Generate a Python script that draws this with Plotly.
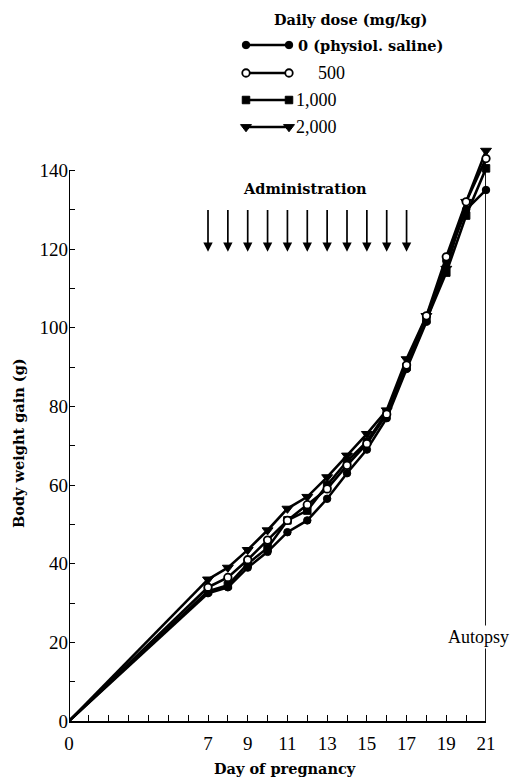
import plotly.graph_objects as go

W, H = 520, 778

days = [0, 7, 8, 9, 10, 11, 12, 13, 14, 15, 16, 17, 18, 19, 20, 21]
gain_0 = [0, 32.5, 34, 39, 43, 48, 51, 56.5, 63, 69, 77, 89.5, 101.5, 117, 130, 135]
gain_500 = [0, 34, 36.5, 41, 46, 51, 55, 59, 65, 70.5, 78, 90.5, 103, 118, 132, 143]
gain_1000 = [0, 33, 34.5, 40, 44, 51, 53.5, 60, 66, 71, 78.5, 90, 102, 114, 128.5, 140.5]
gain_2000 = [0, 36, 39, 43.5, 48.5, 54, 57, 62, 67.5, 73, 79, 92, 103, 115, 132, 145]

admin_days = [7, 8, 9, 10, 11, 12, 13, 14, 15, 16, 17]
x_tickvals = list(range(0, 22))
x_ticklabels = ["0", "", "", "", "", "", "", "7", "", "9", "", "11", "", "13", "", "15", "", "17", "", "19", "", "21"]
y_tickvals = list(range(0, 150, 10))
y_ticklabels = [str(v) if v % 20 == 0 else "" for v in y_tickvals]

series_names = ["0 (physiol. saline)", "500", "1,000", "2,000"]

SERIF = "Liberation Serif"
BOLD = "DejaVu Serif"
BSIZE = 14.5

styles = {
    "0 (physiol. saline)": dict(symbol="circle", size=7.5, color="black", line=dict(color="black", width=1)),
    "500": dict(symbol="circle", size=7.5, color="white", line=dict(color="black", width=1.8)),
    "1,000": dict(symbol="square", size=7.5, color="black", line=dict(color="black", width=1)),
    "2,000": dict(symbol="triangle-down", size=9.5, color="black", line=dict(color="black", width=1)),
}
LW = 2.6

fig = go.Figure()

draw_order = [("0 (physiol. saline)", gain_0), ("1,000", gain_1000), ("2,000", gain_2000), ("500", gain_500)]
for name, vals in draw_order:
    fig.add_trace(go.Scatter(
        x=days[:2], y=vals[:2], mode="lines",
        line=dict(color="black", width=LW), cliponaxis=False, showlegend=False,
    ))
for name, vals in draw_order:
    fig.add_trace(go.Scatter(
        x=days[1:], y=vals[1:], mode="lines+markers", name=name,
        line=dict(color="black", width=LW),
        marker=styles[name], cliponaxis=False, showlegend=False,
    ))

# legend drawn on a separate full-figure pixel subplot
leg_rows = [45, 73, 100, 127]
leg_x0, leg_x1 = 246, 289
for (name, ry) in zip(series_names, leg_rows):
    fig.add_trace(go.Scatter(
        x=[leg_x0, leg_x1], y=[ry, ry], mode="lines+markers",
        line=dict(color="black", width=LW), marker=styles[name],
        xaxis="x2", yaxis="y2", showlegend=False, cliponaxis=False,
    ))

annotations = []
annotations.append(dict(xref="x2", yref="y2", x=350, y=19, text="<b>Daily dose (mg/kg)</b>",
                        showarrow=False, font=dict(family=BOLD, size=BSIZE, color="black")))
leg_label_x = [296, 316, 294, 294]
leg_fonts = [dict(family=BOLD, size=BSIZE, color="black"), dict(family=SERIF, size=18, color="black"),
             dict(family=SERIF, size=18, color="black"), dict(family=SERIF, size=18, color="black")]
for name, ry, lx, f in zip(series_names, leg_rows, leg_label_x, leg_fonts):
    txt = "<b>" + name + "</b>" if name.startswith("0") else name
    annotations.append(dict(xref="x2", yref="y2", x=lx, y=ry, text=txt, xanchor="left",
                            showarrow=False, font=f))

for d in admin_days:
    annotations.append(dict(x=d, y=119.3, ax=d, ay=130.3, xref="x", yref="y", axref="x", ayref="y",
                            text="", showarrow=True, arrowhead=2, arrowsize=1.1, arrowwidth=1.7,
                            arrowcolor="black"))
annotations.append(dict(x=11.9, y=135.5, xref="x", yref="y", text="<b>Administration</b>",
                        showarrow=False, font=dict(family=BOLD, size=BSIZE, color="black")))
annotations.append(dict(x=20.6, y=21.3, xref="x", yref="y", text="Autopsy", bgcolor="white",
                        showarrow=False, font=dict(family=SERIF, size=18, color="black")))
annotations.append(dict(xref="x2", yref="y2", x=285, y=768, text="<b>Day of pregnancy</b>",
                        showarrow=False, font=dict(family=BOLD, size=BSIZE, color="black")))
annotations.append(dict(xref="x2", yref="y2", x=18, y=443, text="<b>Body weight gain (g)</b>", textangle=-90,
                        showarrow=False, font=dict(family=BOLD, size=BSIZE, color="black")))

shapes = [
    dict(type="line", xref="x", yref="y", x0=0, x1=0, y0=0, y1=140, line=dict(color="black", width=2)),
    dict(type="line", xref="x", yref="y", x0=21, x1=21, y0=0, y1=142, line=dict(color="black", width=1.8),
         layer="below"),
]

fig.update_layout(
    width=W, height=H, margin=dict(l=0, r=0, t=0, b=0),
    paper_bgcolor="white", plot_bgcolor="rgba(0,0,0,0)",
    xaxis=dict(domain=[69 / W, 486 / W], range=[0, 21], tickvals=x_tickvals, ticktext=x_ticklabels,
               ticks="inside", ticklen=6, tickwidth=1.4, tickcolor="black", ticklabelstandoff=4,
               showline=True, linecolor="black", linewidth=2, showgrid=False, zeroline=False,
               tickfont=dict(family=SERIF, size=19, color="black"), automargin=False, anchor="y"),
    yaxis=dict(domain=[(H - 721) / H, (H - 131) / H], range=[0, 150], tickvals=y_tickvals,
               ticktext=y_ticklabels, ticks="inside", ticklen=6, tickwidth=1.4, tickcolor="black",
               showline=False, showgrid=False, zeroline=False,
               tickfont=dict(family=SERIF, size=19, color="black"), automargin=False, anchor="x"),
    xaxis2=dict(domain=[0, 1], range=[0, W], visible=False, anchor="y2", fixedrange=True),
    yaxis2=dict(domain=[0, 1], range=[H, 0], visible=False, anchor="x2", fixedrange=True),
    annotations=annotations, shapes=shapes, showlegend=False,
)

fig.write_html("out.html")
